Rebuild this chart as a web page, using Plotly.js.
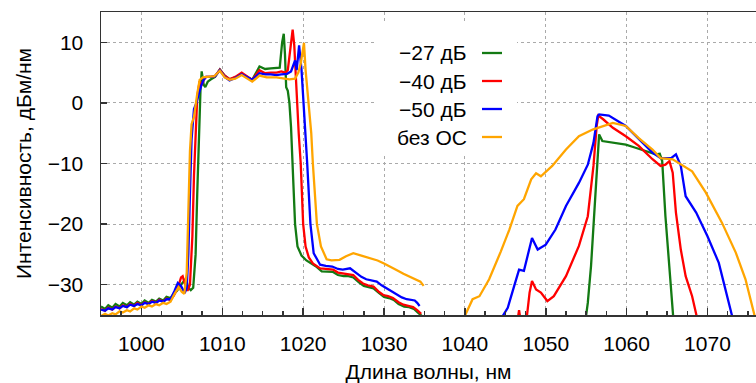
<!DOCTYPE html>
<html><head><meta charset="utf-8">
<script src="https://cdn.plot.ly/plotly-3.0.1.min.js"></script>
<style>html,body{margin:0;padding:0;background:#fff}#chart{width:756px;height:383px}</style>
</head><body><div id="chart"></div>
<script>
const seriesNames = ["\u221227 дБ", "\u221240 дБ", "\u221250 дБ", "без ОС"];
const seriesColors = ["#137a13", "#ff0000", "#0000ff", "#ffa500"];

// −27 dB
const greenX = [995.0,995.5,995.9,996.4,996.8,997.3,997.7,998.2,998.6,999.1,999.5,1000.0,1000.4,1000.9,1001.3,1001.8,1002.2,1002.7,1003.1,1003.6,1004.0,1004.4,1004.9,1005.5,1005.8,1006.1,1006.4,1006.7,1006.9,1007.1,1007.3,1007.45,1007.7,1007.9,1008.2,1008.6,1009.1,1009.7,1010.3,1010.9,1011.6,1012.4,1013.0,1013.7,1014.6,1015.3,1016.0,1016.7,1017.1,1017.4,1017.6,1017.75,1017.9,1018.1,1018.3,1018.5,1018.7,1018.85,1019.0,1019.3,1019.8,1020.4,1021.0,1021.7,1022.3,1023.0,1023.7,1024.3,1025.0,1025.6,1026.2,1026.9,1027.5,1028.1,1028.7,1029.4,1030.0,1030.6,1031.2,1031.8,1032.5,1033.1,1033.7,1034.2,1034.7,
  null,
  1054.9,1055.2,1055.6,1056.0,1056.4,1056.6,1057.0,1058.3,1059.9,1061.1,1062.4,1063.6,1064.1,1064.4,1064.8,1065.3,1065.8];
const greenY = [-33.6,-34.0,-33.4,-33.8,-33.2,-33.6,-33.0,-33.4,-32.9,-33.3,-32.8,-33.2,-32.6,-33.0,-32.5,-32.8,-32.3,-32.6,-32.0,-32.2,-31.5,-31.0,-30.0,-29.0,-30.5,-30.9,-30.5,-25,-15,-5,2.0,5.2,3.0,2.6,3.5,3.9,4.3,5.5,4.5,3.9,4.2,4.8,4.3,3.8,6.0,5.6,5.7,5.7,5.8,10,11.4,8,2.6,2.0,0,-4,-10,-16,-20,-23.7,-25.2,-26.0,-26.5,-27.1,-27.8,-27.8,-27.9,-28.4,-28.6,-28.6,-28.8,-29.6,-30.2,-30.4,-30.6,-31.4,-32.0,-32.2,-32.5,-33.2,-33.6,-33.7,-34.0,-34.6,-35.2,
  null,
  -36,-33,-26.9,-17.6,-8.2,-5.2,-6.3,-6.6,-6.9,-7.4,-8.0,-8.5,-8.4,-9.6,-18.7,-26.9,-36];

// −40 dB
const redX = [995.0,995.5,995.9,996.4,996.8,997.3,997.7,998.2,998.6,999.1,999.5,1000.0,1000.4,1000.9,1001.3,1001.8,1002.2,1002.7,1003.1,1003.6,1004.0,1004.5,1004.9,1005.1,1005.4,1005.7,1006.0,1006.3,1006.5,1006.7,1006.9,1007.2,1007.4,1007.7,1008.0,1008.6,1009.1,1009.7,1010.3,1010.9,1011.6,1012.4,1013.0,1013.7,1014.6,1015.3,1016.0,1016.7,1017.3,1017.8,1018.1,1018.4,1018.7,1018.9,1019.0,1019.2,1019.45,1019.7,1020.0,1020.3,1020.7,1021.2,1022.1,1022.8,1023.7,1024.3,1024.9,1025.6,1026.2,1026.8,1027.4,1028.0,1028.7,1029.3,1029.9,1030.5,1031.1,1031.8,1032.4,1033.0,1033.6,1034.1,1034.6,
  null,
  1046.5,1046.7,1046.9,1047.6,1048.0,1048.3,1048.8,1049.4,1050.2,1051.0,1052.5,1054.1,1055.2,1055.9,1056.3,1056.5,1057.1,1058.3,1059.9,1061.5,1063.2,1064.2,1064.8,1065.3,1065.7,1066.1,1066.7,1067.3,1068.1,1068.8];
const redY = [-34.0,-34.3,-33.8,-34.1,-33.6,-33.9,-33.4,-33.7,-33.2,-33.5,-33.0,-33.4,-32.9,-33.2,-32.7,-33.0,-32.5,-32.8,-32.3,-32.5,-31.8,-30.5,-28.8,-28.6,-30.0,-31.0,-30.0,-22,-12,-4,1.0,3.6,2.8,3.8,4.3,4.3,4.4,5.5,4.5,3.9,4.3,5.0,4.4,3.8,5.4,4.9,5.0,5.0,5.2,5.0,5.4,8.5,12.1,9.5,6.5,0,-5,-10,-20,-23.7,-25.5,-26.5,-27.3,-27.4,-27.5,-28.0,-28.1,-28.3,-28.4,-29.2,-29.8,-30.1,-30.3,-31.1,-31.7,-31.9,-32.2,-32.9,-33.3,-33.5,-33.7,-34.2,-34.8,
  null,
  -36,-34.2,-36,-36,-31.3,-29.4,-30.8,-31.3,-32.7,-31.9,-28.6,-23.6,-18.7,-10.4,-3.8,-2.1,-2.7,-4.1,-5.5,-7.1,-9.3,-10.4,-10.2,-9.6,-11.5,-18.1,-24.2,-28.6,-31.9,-36];

// −50 dB
const blueX = [995.0,995.5,995.9,996.4,996.8,997.3,997.7,998.2,998.6,999.1,999.5,1000.0,1000.4,1000.9,1001.3,1001.8,1002.2,1002.7,1003.1,1003.6,1004.1,1004.5,1004.9,1005.35,1005.6,1005.8,1006.0,1006.2,1006.5,1006.8,1007.1,1007.4,1007.7,1008.0,1008.6,1009.1,1009.7,1010.3,1010.9,1011.6,1012.4,1013.0,1013.7,1014.6,1015.3,1016.0,1016.7,1017.3,1018.0,1018.5,1019.0,1019.2,1019.5,1019.8,1020.0,1020.3,1020.5,1020.9,1021.3,1022.1,1022.8,1023.6,1024.3,1024.9,1025.8,1026.6,1027.2,1027.8,1028.5,1029.1,1029.7,1030.3,1031.0,1031.6,1032.2,1032.8,1033.4,1033.8,1034.1,1034.4,
  null,
  1044.3,1045.3,1046.1,1046.7,1047.3,1047.9,1048.3,1049.0,1050.0,1051.2,1052.5,1054.1,1055.2,1055.9,1056.4,1056.6,1057.8,1059.9,1061.5,1063.2,1064.2,1065.5,1066.1,1066.7,1067.3,1068.6,1070.0,1071.4,1073.2];
const blueY = [-34.1,-34.3,-33.9,-34.1,-33.7,-33.9,-33.5,-33.7,-33.3,-33.5,-33.2,-33.4,-33.0,-33.2,-32.8,-33.0,-32.6,-32.8,-32.4,-32.4,-31.0,-29.7,-30.2,-31.4,-30.5,-25,-15,-6,-1.0,0.0,1.5,2.9,3.8,4.3,4.3,4.4,5.4,4.3,3.7,4.1,4.7,4.3,3.8,4.9,4.7,4.7,4.6,4.7,4.8,5.2,7.0,5.4,9.5,5.4,0,-5.6,-10,-20,-24.8,-26.7,-26.9,-27.0,-27.4,-27.5,-27.3,-28.1,-28.7,-29.1,-29.3,-29.5,-30.1,-30.6,-31.1,-31.7,-32.1,-32.4,-32.5,-32.6,-33.0,-33.5,
  null,
  -36,-33.8,-30.2,-27.5,-27.7,-24.2,-22.3,-24.2,-23.4,-20.9,-17.0,-13.2,-10.2,-6.6,-2.2,-1.9,-2.1,-3.8,-6.0,-8.2,-9.1,-9.1,-8.5,-10.4,-15.4,-18.1,-22.0,-26.4,-36];

// без ОС
const orangeX = [995.0,995.5,995.9,996.4,996.8,997.3,997.7,998.2,998.6,999.1,999.5,1000.0,1000.4,1000.9,1001.3,1001.8,1002.2,1002.7,1003.1,1003.6,1004.1,1004.6,1005.0,1005.3,1005.6,1005.8,1006.0,1006.2,1006.5,1006.9,1007.2,1007.6,1008.2,1009.0,1009.7,1010.3,1010.9,1011.6,1012.4,1013.0,1013.7,1014.6,1015.5,1016.7,1017.5,1018.3,1019.0,1019.4,1019.7,1020.1,1020.3,1020.7,1021.0,1021.2,1021.7,1022.2,1022.9,1023.5,1024.5,1025.3,1026.2,1027.2,1028.3,1029.2,1030.0,1030.8,1031.6,1032.4,1033.2,1034.0,1034.5,1034.9,
  null,
  1039.7,1040.95,1041.8,1043.0,1044.45,1045.5,1046.5,1047.3,1048.2,1048.8,1049.4,1050.8,1052.5,1054.1,1055.8,1058.3,1059.9,1061.5,1063.2,1064.2,1065.7,1068.1,1069.8,1071.8,1073.5,1074.7,1075.9];
const orangeY = [-35.2,-34.8,-35.1,-34.7,-34.9,-34.4,-34.6,-34.2,-34.4,-33.9,-34.1,-33.6,-33.8,-33.4,-33.6,-33.2,-33.4,-33.0,-33.2,-32.8,-31.5,-30.4,-31.2,-31.5,-28,-18,-8,-3.5,-2.3,1.5,3.8,4.2,4.3,4.4,5.3,4.2,3.8,4.0,4.6,4.1,3.5,4.5,4.2,4.2,4.1,3.9,4.0,5.0,6.5,9.9,5.4,0,-5,-10,-20,-23.7,-25.8,-26.0,-25.9,-25.3,-24.8,-25.2,-25.6,-26.0,-26.5,-27.0,-27.6,-28.2,-28.7,-29.3,-29.5,-30.2,
  null,
  -36,-32.4,-31.9,-29.1,-24.5,-20.9,-17.0,-15.9,-12.6,-11.6,-12.1,-10.4,-7.7,-5.5,-4.4,-3.3,-3.8,-5.8,-7.7,-9.1,-9.3,-11.3,-14.8,-19.8,-24.7,-29.1,-35.5];

const xTickVals = [1000, 1010, 1020, 1030, 1040, 1050, 1060, 1070];
const yTickVals = [-30, -20, -10, 0, 10];

const xs = [greenX, redX, blueX, orangeX];
const ys = [greenY, redY, blueY, orangeY];
const traces = xs.map((x, i) => ({
  x: x, y: ys[i], type: 'scatter', mode: 'lines', name: seriesNames[i],
  line: {color: seriesColors[i], width: 2.3}, connectgaps: false, showlegend: false
}));

const FONT = '"Liberation Sans", Arial, Helvetica, sans-serif';
const FS = 21;
const L = 101, R = 756, T = 12, B = 315;
const W = R - L, H = B - T;
const px = v => (v - L) / W;
const py = v => (B - v) / H;

const shapes = [{
  type: 'rect', xref: 'paper', yref: 'paper', layer: 'above',
  x0: px(377), x1: px(517), y0: py(153), y1: py(24),
  fillcolor: '#ffffff', line: {width: 0}
}];
const annotations = [];
const rowY = [53, 81, 109, 137];
seriesNames.forEach((n, i) => {
  annotations.push({xref: 'paper', yref: 'paper', x: px(469), y: py(rowY[i]),
    xanchor: 'right', yanchor: 'middle', text: n, showarrow: false,
    font: {family: FONT, size: FS, color: '#000'}});
  shapes.push({type: 'line', xref: 'paper', yref: 'paper', layer: 'above',
    x0: px(482), x1: px(502), y0: py(rowY[i]), y1: py(rowY[i]),
    line: {color: seriesColors[i], width: 2.3}});
});

const layout = {
  width: 756, height: 383,
  margin: {l: L, r: 0, t: T, b: 383 - B, pad: 0},
  paper_bgcolor: '#fff', plot_bgcolor: '#fff',
  font: {family: FONT, size: FS, color: '#000'},
  showlegend: false,
  xaxis: {
    range: [995, 1076], tickvals: xTickVals, ticks: 'inside', ticklen: 7, tickwidth: 1.5,
    tickcolor: '#333', showline: true, linecolor: '#333', linewidth: 1.5, mirror: true,
    showgrid: true, gridcolor: '#aaa', griddash: 'dot', gridwidth: 1, zeroline: false,
    minor: {dtick: 2.5, tick0: 995, ticks: 'inside', ticklen: 4, tickcolor: '#333', showgrid: false},
    tickfont: {family: FONT, size: FS}, ticklabelstandoff: 9,
    title: {text: 'Длина волны, нм', font: {family: FONT, size: FS}, standoff: 10}
  },
  yaxis: {
    range: [-35, 15], tickvals: yTickVals, ticks: 'inside', ticklen: 6, tickwidth: 1.5,
    tickcolor: '#333', showline: true, linecolor: '#333', linewidth: 1.5, mirror: false,
    showgrid: true, gridcolor: '#aaa', griddash: 'dot', gridwidth: 1, zeroline: false,
    tickfont: {family: FONT, size: FS}, ticklabelstandoff: 12,
    title: {text: 'Интенсивность, дБм/нм', font: {family: FONT, size: FS}, standoff: 10}
  },
  shapes: shapes,
  annotations: annotations
};

Plotly.newPlot('chart', traces, layout, {displayModeBar: false, staticPlot: true});
</script></body></html>
